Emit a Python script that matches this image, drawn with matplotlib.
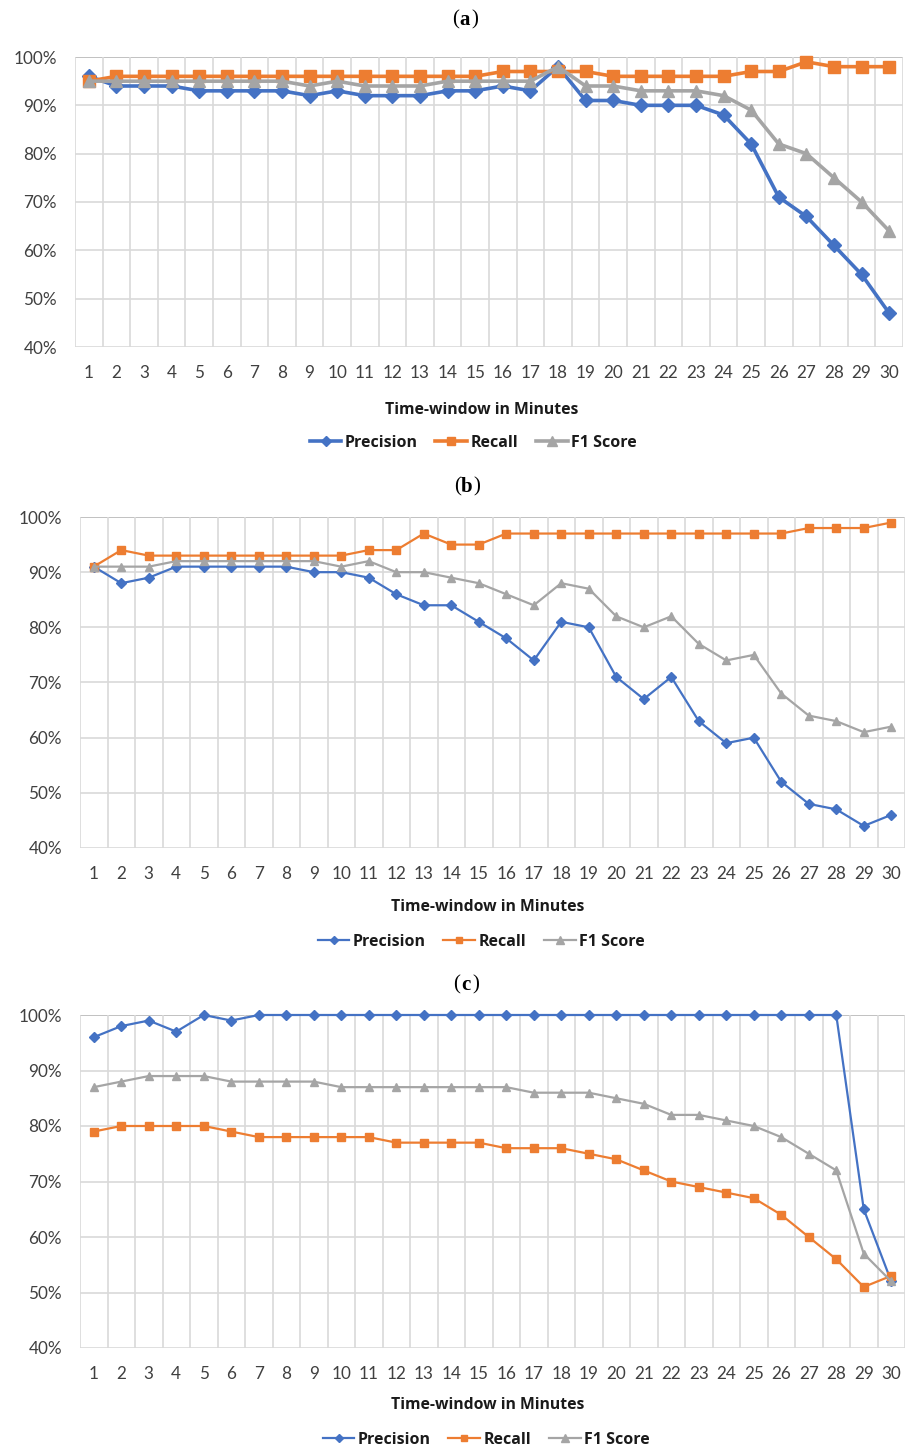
import matplotlib
matplotlib.use("Agg")
import matplotlib.pyplot as plt
from matplotlib.ticker import PercentFormatter

# x = długość okna czasowego w minutach
minutes = list(range(1, 31))

# (a)
precision_a = [96, 94, 94, 94, 93, 93, 93, 93, 92, 93, 92, 92, 92, 93, 93,
               94, 93, 98, 91, 91, 90, 90, 90, 88, 82, 71, 67, 61, 55, 47]
recall_a = [95, 96, 96, 96, 96, 96, 96, 96, 96, 96, 96, 96, 96, 96, 96,
            97, 97, 97, 97, 96, 96, 96, 96, 96, 97, 97, 99, 98, 98, 98]
f1_a = [95, 95, 95, 95, 95, 95, 95, 95, 94, 95, 94, 94, 94, 95, 95,
        95, 95, 98, 94, 94, 93, 93, 93, 92, 89, 82, 80, 75, 70, 64]

# (b)
precision_b = [91, 88, 89, 91, 91, 91, 91, 91, 90, 90, 89, 86, 84, 84, 81,
               78, 74, 81, 80, 71, 67, 71, 63, 59, 60, 52, 48, 47, 44, 46]
recall_b = [91, 94, 93, 93, 93, 93, 93, 93, 93, 93, 94, 94, 97, 95, 95,
            97, 97, 97, 97, 97, 97, 97, 97, 97, 97, 97, 98, 98, 98, 99]
f1_b = [91, 91, 91, 92, 92, 92, 92, 92, 92, 91, 92, 90, 90, 89, 88,
        86, 84, 88, 87, 82, 80, 82, 77, 74, 75, 68, 64, 63, 61, 62]

# (c)
precision_c = [96, 98, 99, 97, 100, 99, 100, 100, 100, 100, 100, 100, 100, 100, 100,
               100, 100, 100, 100, 100, 100, 100, 100, 100, 100, 100, 100, 100, 65, 52]
recall_c = [79, 80, 80, 80, 80, 79, 78, 78, 78, 78, 78, 77, 77, 77, 77,
            76, 76, 76, 75, 74, 72, 70, 69, 68, 67, 64, 60, 56, 51, 53]
f1_c = [87, 88, 89, 89, 89, 88, 88, 88, 88, 87, 87, 87, 87, 87, 87,
        87, 86, 86, 86, 85, 84, 82, 82, 81, 80, 78, 75, 72, 57, 52]

series_names = ["Precision", "Recall", "F1 Score"]
y_ticks = [40, 50, 60, 70, 80, 90, 100]

BLUE = "#4472C4"
ORANGE = "#ED7D31"
GRAY = "#A5A5A5"

W, H = 908, 1449


def fx(px):
    return px / W


def fy(py):
    return 1 - py / H


plt.rcParams["font.family"] = ["Lato", "DejaVu Sans"]

fig = plt.figure(figsize=(W / 100, H / 100), dpi=100)


def draw_panel(box, letter, letter_pos, xlabel_pos, legend_pos, data, lw, ms):
    left, top, right, bottom = box
    ax = fig.add_axes([fx(left), fy(bottom), (right - left) / W, (bottom - top) / H])

    styles = [(BLUE, "D", ms * 0.85), (ORANGE, "s", ms), (GRAY, "^", ms * 1.05)]
    for values, name, (color, marker, size) in zip(data, series_names, styles):
        ax.plot(minutes, values, color=color, marker=marker, markersize=size,
                linewidth=lw, label=name, clip_on=False, zorder=3)

    ax.set_xlim(0.5, 30.5)
    ax.set_ylim(40, 100)
    ax.set_xticks(minutes)
    ax.set_xticks([m + 0.5 for m in [0] + minutes], minor=True)
    ax.set_yticks(y_ticks)
    ax.yaxis.set_major_formatter(PercentFormatter(decimals=0))
    ax.tick_params(axis="both", which="both", length=0, labelsize=12.3, colors="#404040")
    ax.tick_params(axis="x", pad=13)
    ax.tick_params(axis="y", pad=13)
    ax.grid(axis="y", which="major", color="#d9d9d9", linewidth=1.2, zorder=0)
    ax.grid(axis="x", which="minor", color="#d9d9d9", linewidth=1.2, zorder=0)
    ax.axhline(100, color="#303030", linewidth=1.2, zorder=1)
    for s in ax.spines.values():
        s.set_visible(False)

    # tytuł panelu: "(a)" z pogrubioną literą
    lx, ly = letter_pos
    fig.text(fx(lx), fy(ly), letter, ha="center", va="center", fontsize=15,
             fontweight="bold", family="Liberation Serif")
    fig.text(fx(lx - 6), fy(ly), "(", ha="right", va="center", fontsize=15,
             family="Liberation Serif")
    fig.text(fx(lx + 6), fy(ly), ")", ha="left", va="center", fontsize=15,
             family="Liberation Serif")

    fig.text(fx(xlabel_pos[0]), fy(xlabel_pos[1]), "Time-window in Minutes",
             ha="center", va="center", fontsize=11.3, fontweight="bold",
             family="Open Sans", color="#1a1a1a")

    ax.legend(loc="center", bbox_to_anchor=(fx(legend_pos[0]), fy(legend_pos[1])),
              bbox_transform=fig.transFigure, ncol=3, frameon=False,
              prop={"weight": "bold", "size": 11.5, "family": "Open Sans"},
              handlelength=2.0, columnspacing=1.1, handletextpad=0.2,
              markerscale=0.8, labelcolor="#1a1a1a")
    return ax


draw_panel((75, 57, 903, 347), "a", (465, 20), (482, 410), (473, 443),
           [precision_a, recall_a, f1_a], lw=2.6, ms=8)
draw_panel((80, 517, 905, 848), "b", (467, 487), (488, 907), (481, 942),
           [precision_b, recall_b, f1_b], lw=1.6, ms=6)
draw_panel((80, 1015, 905, 1348), "c", (466, 985), (488, 1405), (486, 1440),
           [precision_c, recall_c, f1_c], lw=1.6, ms=6)

fig.savefig("out.png", dpi=100)
